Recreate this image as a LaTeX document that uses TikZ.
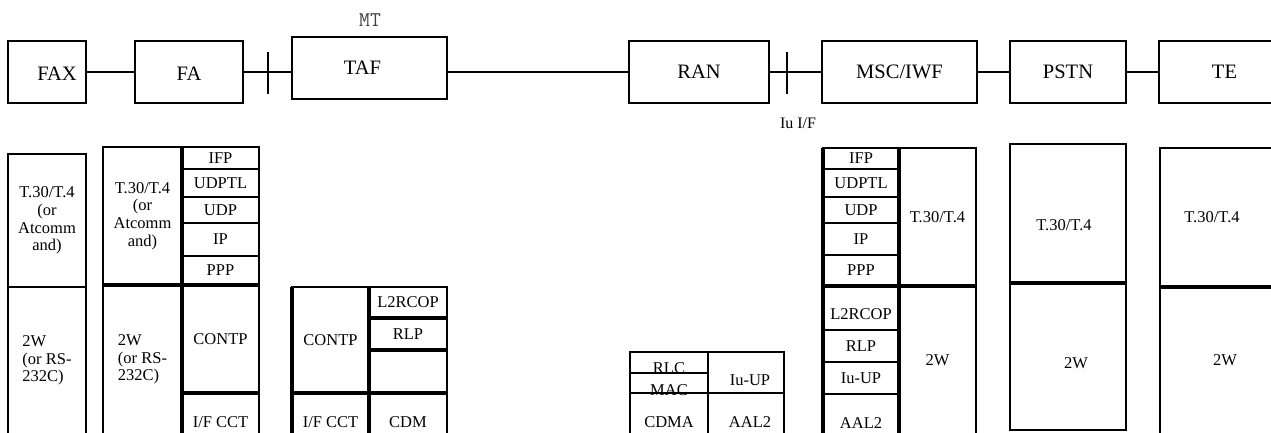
\documentclass[tikz,border=0pt]{standalone}
\usepackage{fontspec}
\setmainfont{Liberation Serif}
\usetikzlibrary{positioning}
\tikzset{
	unitbox/.style={rectangle, draw=black, line width=2.2pt, inner sep=0pt, outer sep=0pt, minimum height=62pt, font=\fontsize{20.5}{24}\selectfont},
	link/.style   ={line width=2pt},
	ifmark/.style ={line width=2pt},
	% protocol stack styles
	cell/.style   ={rectangle, draw=black, line width=1.3pt, inner sep=0pt, outer sep=0pt, align=center, font=\fontsize{16.5}{17.6}\selectfont},
	frame/.style  ={line width=2.2pt},
	heavy/.style  ={line width=3.3pt},
}
% one layer of a protocol stack, given by its corners
\newcommand{\layer}[7][]{%
	\node[cell, #1, minimum width={(#5)-(#3)}, minimum height={(#6)-(#4)}] (#2) at ({((#3)+(#5))/2}, {((#4)+(#6))/2}) {#7};}
\newcommand{\dropby}[2]{\raisebox{-#1pt}[\height][\depth]{#2}}
\begin{document}
\begin{tikzpicture}[x=1pt, y=-1pt]
	\clip (0,0) rectangle (1271,432);
	% network elements
	\node[unitbox, minimum width=78pt]  (fax)  at (47,72)     {\dropby{2}{\hspace*{20pt}FAX}};
	\node[unitbox, minimum width=108pt] (fa)   at (189,72)    {\dropby{2}{FA}};
	\node[unitbox, minimum width=155pt] (taf)  at (369.5,68)  {TAF\hspace*{14pt}};
	\node[unitbox, minimum width=140pt] (ran)  at (699,72)    {RAN};
	\node[unitbox, minimum width=155pt] (msc)  at (899.5,72)  {MSC/IWF};
	\node[unitbox, minimum width=116pt] (pstn) at (1068,72)   {PSTN};
	\node[unitbox, minimum width=131pt] (te)   at (1224.5,72) {TE};
	\node[font=\ttfamily\fontsize{21}{24}\selectfont, text=black!75] (mt) at (370,20) {MT};
	\node[font=\fontsize{16}{18}\selectfont] (iu) at (798,123) {Iu I/F};
	\draw[link] (fax) -- (fa);
	\draw[link] (fa.east) -- (fa.east -| taf.west);
	\draw[link] (taf.east |- ran.west) -- (ran.west);
	\draw[link] (ran) -- (msc);
	\draw[link] (msc) -- (pstn);
	\draw[link] (pstn) -- (te);
	\coordinate (mtif) at (268,73);
	\coordinate (iuif) at (787,73);
	\draw[ifmark] ([yshift=21pt]mtif) -- ([yshift=-21pt]mtif);
	\draw[ifmark] ([yshift=21pt]iuif) -- ([yshift=-21pt]iuif);
	% FAX stack
	\layer{fax-app}{8}{154}{86}{287}{T.30/T.4\\(or\\Atcomm\\and)}
	\layer[align=left]{fax-line}{8}{287}{86}{434}{2W\\(or RS-\\232C)}
	\draw[frame] (fax-app.north west) rectangle (fax-line.south east);
	\draw[frame] (fax-app.south west) -- (fax-app.south east);
	% FA stack
	\layer{fa-app}{103}{147}{182}{285}{T.30/T.4\\(or\\Atcomm\\and)}
	\layer[align=left]{fa-line}{103}{285}{182}{434}{2W\\(or RS-\\232C)}
	\layer{fa-ifp}{182}{147}{259}{169}{IFP}
	\layer{fa-udptl}{182}{169}{259}{197}{UDPTL}
	\layer{fa-udp}{182}{197}{259}{223}{UDP}
	\layer{fa-ip}{182}{223}{259}{256}{IP}
	\layer{fa-ppp}{182}{256}{259}{285}{PPP}
	\layer{fa-contp}{182}{285}{259}{393}{CONTP}
	\layer{fa-ifcct}{182}{393}{259}{434}{\dropby{8.5}{I/F CCT}}
	\draw[frame] (fa-app.north west) rectangle (fa-ifcct.south east);
	\draw[heavy] (fa-ifp.north west) -- (fa-ifcct.south west);
	\draw[heavy] (fa-line.north west) -- (fa-contp.north east);
	\draw[heavy] (fa-contp.south west) -- (fa-contp.south east);
	% TAF stack
	\layer{taf-contp}{292}{287}{369}{393}{CONTP}
	\layer{taf-ifcct}{292}{393}{369}{434}{\dropby{8.5}{I/F CCT}}
	\layer{taf-l2rcop}{369}{287}{447}{318}{L2RCOP}
	\layer{taf-rlp}{369}{318}{447}{350}{RLP}
	\layer{taf-spare}{369}{350}{447}{393}{}
	\layer{taf-cdm}{369}{393}{447}{434}{\dropby{8.5}{CDM}}
	\draw[frame] (taf-contp.north west) rectangle (taf-cdm.south east);
	\draw[heavy] (taf-contp.north west) -- (taf-ifcct.south west);
	\draw[heavy] (taf-l2rcop.north west) -- (taf-cdm.south west);
	\draw[heavy] (taf-rlp.north west) -- (taf-rlp.north east);
	\draw[heavy] (taf-spare.north west) -- (taf-spare.north east);
	\draw[heavy] (taf-ifcct.north west) -- (taf-cdm.north east);
	% RAN stack
	\layer{ran-rlc}{630}{352}{708}{373}{\dropby{5.5}{RLC}}
	\layer{ran-mac}{630}{373}{708}{393}{\dropby{7}{MAC}}
	\layer{ran-cdma}{630}{393}{708}{434}{\dropby{8.5}{CDMA}}
	\layer{ran-iuup}{708}{352}{784}{393}{\dropby{7.5}{\hspace*{8pt}Iu-UP}}
	\layer{ran-aal2}{708}{393}{784}{434}{\dropby{8.5}{\hspace*{8pt}AAL2}}
	\draw[frame] (ran-rlc.north west) rectangle (ran-aal2.south east);
	% MSC/IWF stack
	\layer{msc-ifp}{823}{148}{899}{169}{IFP}
	\layer{msc-udptl}{823}{169}{899}{197}{UDPTL}
	\layer{msc-udp}{823}{197}{899}{223}{UDP}
	\layer{msc-ip}{823}{223}{899}{255}{IP}
	\layer{msc-ppp}{823}{255}{899}{286}{PPP}
	\layer{msc-l2rcop}{823}{286}{899}{330}{\dropby{6}{L2RCOP}}
	\layer{msc-rlp}{823}{330}{899}{362}{RLP}
	\layer{msc-iuup}{823}{362}{899}{394}{Iu-UP}
	\layer{msc-aal2}{823}{394}{899}{434}{\dropby{9}{AAL2}}
	\layer{msc-app}{899}{148}{976}{286}{T.30/T.4}
	\layer{msc-line}{899}{286}{976}{434}{2W}
	\draw[frame] (msc-ifp.north west) rectangle (msc-line.south east);
	\draw[heavy] (msc-ifp.north west) -- (msc-aal2.south west);
	\draw[heavy] (msc-app.north west) -- (msc-line.south west);
	\draw[heavy] (msc-l2rcop.north west) -- (msc-line.north east);
	% PSTN stack
	\layer{pstn-app}{1010}{144}{1126}{283}{\dropby{11.5}{T.30/T.4\hspace*{8pt}}}
	\layer{pstn-line}{1010}{283}{1126}{430}{\dropby{7}{\hspace*{16pt}2W}}
	\draw[frame] (pstn-app.north west) rectangle (pstn-line.south east);
	\draw[heavy] (pstn-app.south west) -- (pstn-app.south east);
	% TE stack
	\layer{te-app}{1160}{148}{1290}{287}{T.30/T.4\hspace*{26pt}}
	\layer{te-line}{1160}{287}{1290}{434}{2W}
	\draw[frame] (te-app.north west) rectangle (te-line.south east);
	\draw[heavy] (te-app.south west) -- (te-app.south east);
\end{tikzpicture}
\end{document}
